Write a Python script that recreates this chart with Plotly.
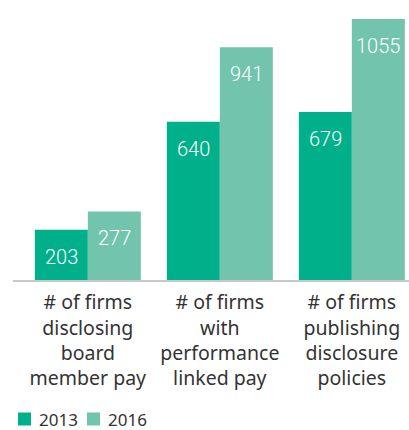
import plotly.graph_objects as go

categories = ["# of firms<br>disclosing<br>board<br>member pay",
              "# of firms<br>with<br>performance<br>linked pay",
              "# of firms<br>publishing<br>disclosure<br>policies"]
series_names = ["2013", "2016"]
values_2013 = [203, 640, 679]
values_2016 = [277, 941, 1055]
colors = ["#00b08a", "#73c4ac"]

W, H = 409, 430
ML, MB = 13, 150
plot_h = H - MB

fig = go.Figure()
for name, vals, col in zip(series_names, [values_2013, values_2016], colors):
    fig.add_trace(go.Bar(x=categories, y=vals, name=name, marker_color=col,
                         marker_line_width=0, showlegend=False))

for vals, shift in [(values_2013, -26.5), (values_2016, 26.5)]:
    for c, v in zip(categories, vals):
        fig.add_annotation(x=c, y=v, text=str(v), showarrow=False,
                           xshift=shift, yshift=-13, yanchor="top",
                           font=dict(family="Roboto", size=20, color="white", weight=300))

# custom legend (square + label), positions in pixels
legend_x = [18, 87]
for name, col, lx in zip(series_names, colors, legend_x):
    fig.add_shape(type="rect", xref="paper", yref="paper",
                  xsizemode="pixel", ysizemode="pixel", xanchor=0, yanchor=0,
                  x0=lx - ML, x1=lx - ML + 13, y0=-(412.5 - plot_h), y1=-(425.5 - plot_h),
                  fillcolor=col, line_width=0)
    fig.add_annotation(xref="paper", yref="paper", x=0, y=0,
                       xshift=lx - ML + 19, yshift=-(419 - plot_h),
                       xanchor="left", yanchor="middle", showarrow=False, text=name,
                       font=dict(family="Noto Sans", size=17, color="#333333"))

fig.update_layout(
    width=W, height=H,
    margin=dict(l=ML, r=0, t=0, b=MB),
    plot_bgcolor="white", paper_bgcolor="white",
    barmode="group", bargap=0.197, bargroupgap=0,
    showlegend=False,
    xaxis=dict(range=[-0.567, 2.433], showline=True, linecolor="#c8c8c8", linewidth=2,
               ticks="", ticklabelstandoff=4,
               tickfont=dict(family="Noto Sans", size=19.5, color="#333333"),
               showgrid=False, fixedrange=True),
    yaxis=dict(range=[0, 1131.8], visible=False, showgrid=False, zeroline=False,
               fixedrange=True),
)

fig.write_html("out.html", config={"displayModeBar": False},
               post_script="document.body.style.margin='0px';document.body.style.overflow='hidden';")
